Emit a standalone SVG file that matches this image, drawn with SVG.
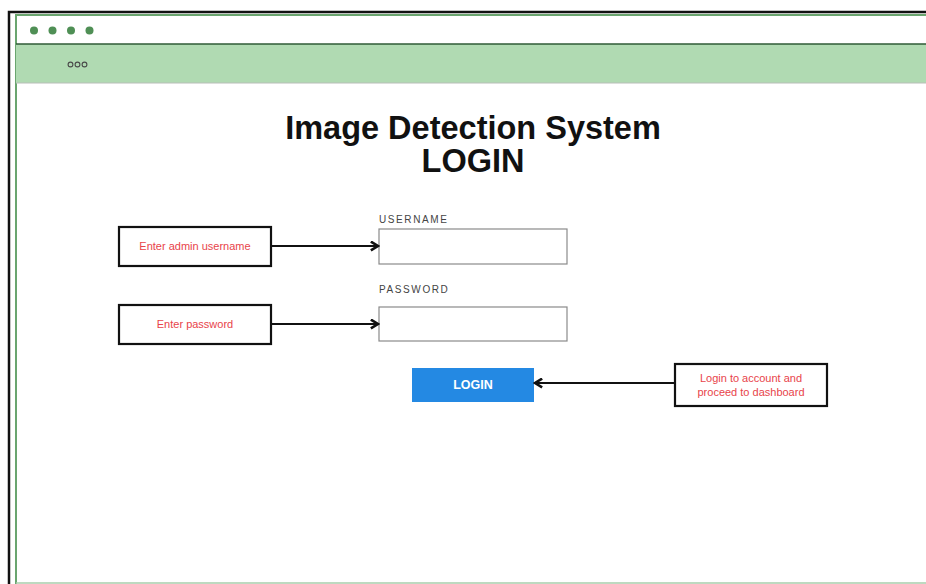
<svg xmlns="http://www.w3.org/2000/svg" width="926" height="584" viewBox="0 0 926 584">
  <style>
    .note { fill: #ffffff; stroke: #111111; stroke-width: 2.2; }
    .note-text { font-family: "Liberation Sans", Arial, sans-serif; font-size: 11px; fill: #e8434a; text-anchor: middle; }
    .field { fill: #ffffff; stroke: #8a8a8a; stroke-width: 1.2; }
    .field-label { font-family: "Liberation Sans", Arial, sans-serif; font-size: 10px; fill: #444444; letter-spacing: 1.6px; }
    .conn { stroke: #111111; stroke-width: 2.2; fill: none; marker-end: url(#chev); }
  </style>
  <defs>
    <marker id="chev" viewBox="0 0 10 10" refX="8.5" refY="5" markerWidth="5" markerHeight="5" orient="auto" markerUnits="strokeWidth">
      <path d="M2,1 L8.5,5 L2,9" fill="none" stroke="#111111" stroke-width="2.4" stroke-linejoin="miter"/>
    </marker>
  </defs>

  <rect width="926" height="584" fill="#ffffff"/>

  <!-- browser window frame -->
  <g id="window">
    <path d="M9,584 V12 H926" fill="none" stroke="#111111" stroke-width="2.5"/>
    <path d="M16,584 V15 H926" fill="none" stroke="#6aa56f" stroke-width="2"/>
    <line x1="16" y1="583" x2="926" y2="583" stroke="#a9cdab" stroke-width="1.5"/>
    <g fill="#4f8f55">
      <circle cx="34" cy="30.5" r="4"/>
      <circle cx="52.5" cy="30.5" r="4"/>
      <circle cx="71" cy="30.5" r="4"/>
      <circle cx="89.5" cy="30.5" r="4"/>
    </g>
    <rect x="16" y="44" width="910" height="39" fill="#b0dab2"/>
    <line x1="16" y1="44" x2="926" y2="44" stroke="#2f5a36" stroke-width="1.5"/>
    <line x1="16" y1="83" x2="926" y2="83" stroke="#b8bdb8" stroke-width="1.2"/>
    <g fill="none" stroke="#4a4a4a" stroke-width="1.1">
      <circle cx="70.5" cy="64.5" r="2.4"/>
      <circle cx="77.5" cy="64.5" r="2.4"/>
      <circle cx="84.5" cy="64.5" r="2.4"/>
    </g>
  </g>

  <!-- page title -->
  <g id="title" font-family="'Liberation Sans', Arial, sans-serif" font-weight="bold" font-size="32.5" fill="#111111" text-anchor="middle">
    <text x="473" y="139">Image Detection System</text>
    <text x="473" y="172">LOGIN</text>
  </g>

  <!-- login form -->
  <g id="username-field">
    <text class="field-label" x="379" y="223">USERNAME</text>
    <rect class="field" x="379" y="229" width="188" height="35"/>
  </g>
  <g id="password-field">
    <text class="field-label" x="379" y="293">PASSWORD</text>
    <rect class="field" x="379" y="307" width="188" height="34"/>
  </g>
  <g id="login-button">
    <rect x="412" y="368" width="122" height="34" fill="#2489e3"/>
    <text x="473" y="389" font-family="'Liberation Sans', Arial, sans-serif" font-weight="bold" font-size="12.5" fill="#ffffff" text-anchor="middle">LOGIN</text>
  </g>

  <!-- annotation notes -->
  <g id="note-username">
    <rect class="note" x="119" y="227" width="152" height="39"/>
    <text class="note-text" x="195" y="250">Enter admin username</text>
  </g>
  <g id="note-password">
    <rect class="note" x="119" y="305" width="152" height="39"/>
    <text class="note-text" x="195" y="328">Enter password</text>
  </g>
  <g id="note-login">
    <rect class="note" x="675" y="364" width="152" height="42"/>
    <text class="note-text" x="751" y="382">Login to account and</text>
    <text class="note-text" x="751" y="396">proceed to dashboard</text>
  </g>

  <!-- connectors -->
  <g id="connectors">
    <line class="conn" x1="271" y1="246" x2="378" y2="246"/>
    <line class="conn" x1="271" y1="324" x2="378" y2="324"/>
    <line class="conn" x1="675" y1="383" x2="535" y2="383"/>
  </g>
</svg>
